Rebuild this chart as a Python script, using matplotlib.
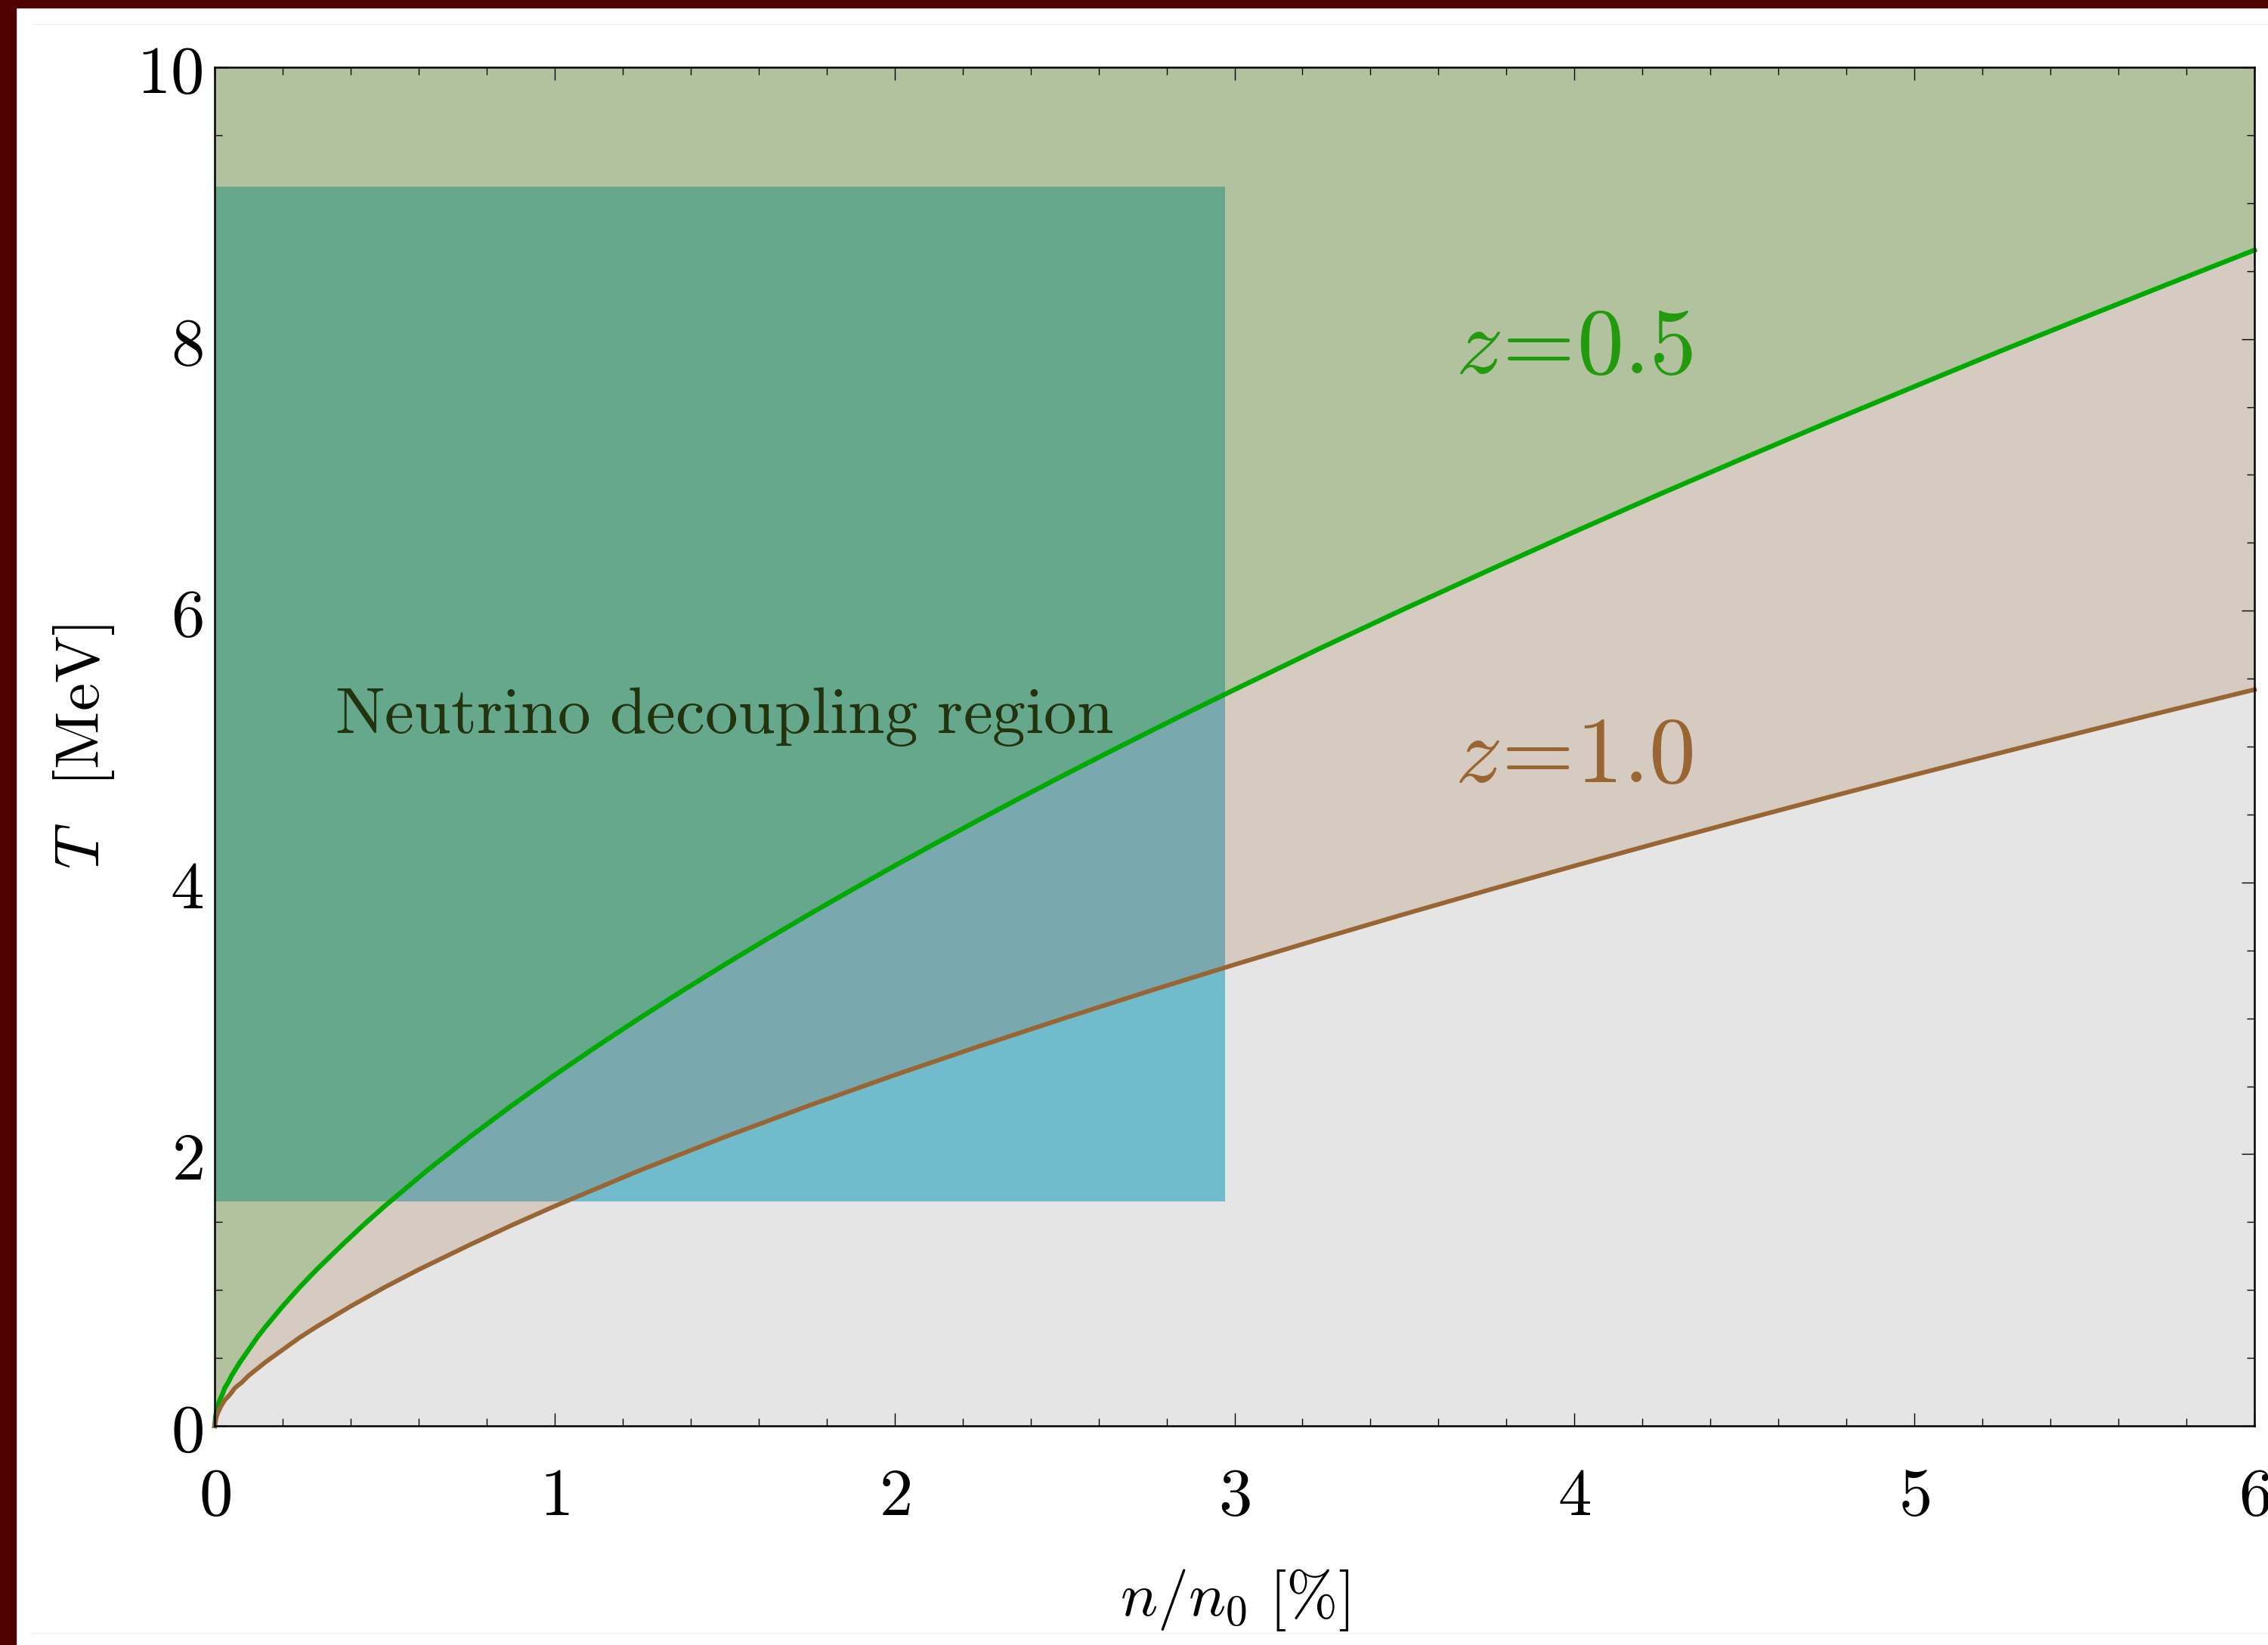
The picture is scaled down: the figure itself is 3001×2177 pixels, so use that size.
import numpy as np
import matplotlib
matplotlib.use("Agg")
import matplotlib.pyplot as plt
from matplotlib.patches import Rectangle
from matplotlib.lines import Line2D

plt.rcParams['mathtext.fontset'] = 'cm'

# T(n) curve for z = 1.0
x_z10 = [0, 0.005, 0.01, 0.02, 0.03, 0.045, 0.06, 0.08, 0.1, 0.125, 0.15, 0.2, 0.25,
         0.3, 0.4, 0.5, 0.6, 0.75, 0.875, 1.0, 1.25, 1.5, 1.75, 2.0, 2.25, 2.5, 2.75,
         3.0, 3.25, 3.5, 3.75, 4.0, 4.25, 4.5, 4.75, 5.0, 5.25, 5.5, 5.75, 6.0]
T_z10 = [0, 0.065, 0.10, 0.15, 0.19, 0.23, 0.28, 0.32, 0.37, 0.42, 0.47, 0.56, 0.65,
         0.73, 0.88, 1.02, 1.15, 1.332, 1.478, 1.617, 1.880, 2.126, 2.359, 2.582, 2.795,
         3.001, 3.201, 3.395, 3.583, 3.767, 3.946, 4.122, 4.294, 4.463, 4.629, 4.792,
         4.952, 5.110, 5.266, 5.419]

# T(n) curve for z = 0.5
x_z05 = [0, 0.0025, 0.005, 0.01, 0.015, 0.0225, 0.03, 0.04, 0.05, 0.0625, 0.075, 0.1,
         0.125, 0.15, 0.2, 0.25, 0.3, 0.375, 0.4375, 0.5, 0.625, 0.75, 0.875, 1.0,
         1.125, 1.25, 1.375, 1.5, 1.625, 1.75, 1.875, 2.0, 2.125, 2.25, 2.375, 2.5,
         2.625, 2.75, 2.875, 3.0, 3.25, 3.5, 3.75, 4.0, 4.25, 4.5, 4.75, 5.0, 5.25,
         5.5, 5.75, 6.0]
T_z05 = [0, 0.065, 0.10, 0.15, 0.19, 0.23, 0.28, 0.32, 0.37, 0.42, 0.47, 0.56,
         0.65, 0.73, 0.88, 1.02, 1.15, 1.332, 1.478, 1.617, 1.880, 2.126, 2.359, 2.582,
         2.795, 3.001, 3.201, 3.395, 3.583, 3.767, 3.946, 4.122, 4.294, 4.463, 4.629,
         4.792, 4.952, 5.110, 5.266, 5.419, 5.721, 6.014, 6.300, 6.581, 6.857, 7.126,
         7.391, 7.650, 7.908, 8.159, 8.408, 8.654]

# neutrino decoupling window
dec_n = (0.0, 2.97)
dec_T = (1.657, 9.12)

x_lim = (0, 6)
y_lim = (0, 10)
x_ticks = [0, 1, 2, 3, 4, 5, 6]
y_ticks = [0, 2, 4, 6, 8, 10]

W, H = 3001, 2177
fig = plt.figure(figsize=(W / 100, H / 100), dpi=100)
ax = fig.add_axes([284 / W, 1 - 1887 / H, (2983 - 284) / W, (1887 - 89) / H])
ax.set_xlim(*x_lim)
ax.set_ylim(*y_lim)

# common grid for the band boundaries
xg = np.union1d(x_z10, x_z05)
lo = np.interp(xg, x_z10, T_z10)
hi = np.interp(xg, x_z05, T_z05)
top = np.full_like(xg, y_lim[1])
bot = np.zeros_like(xg)

bands = [(bot, lo, '#e5e5e5', '#70bccd'),
         (lo, hi, '#d5cbc0', '#79a9ae'),
         (hi, top, '#b3c29e', '#66a88b')]

for y0, y1, c_out, c_in in bands:
    ax.fill_between(xg, y0, y1, color=c_out, lw=0, zorder=1)

clip = Rectangle((dec_n[0], dec_T[0]), dec_n[1] - dec_n[0], dec_T[1] - dec_T[0],
                 transform=ax.transData, fill=False, lw=0)
ax.add_patch(clip)
for y0, y1, c_out, c_in in bands:
    p = ax.fill_between(xg, y0, y1, color=c_in, lw=0, zorder=2)
    p.set_clip_path(clip)

ax.plot(x_z05, T_z05, color='#00aa00', lw=4.6, zorder=4, clip_on=False,
        solid_joinstyle='round')
ax.plot(x_z10, T_z10, color='#996633', lw=4.3, zorder=4, clip_on=False,
        solid_joinstyle='round')

ax.text(4.0, 7.94, r'$z\!=\!0.5$', color='#229a0d', fontsize=89,
        ha='center', va='center', zorder=5)
ax.text(4.0, 4.93, r'$z\!=\!1.0$', color='#996633', fontsize=89,
        ha='center', va='center', zorder=5)
ax.text(1.50, 5.10, r'$\mathrm{Neutrino\ decoupling\ region}$', color='#22330d',
        fontsize=63, ha='center', va='baseline', zorder=5)

# axes styling
for s in ax.spines.values():
    s.set_linewidth(1.8)
    s.set_color('black')
    s.set_zorder(6)

ax.set_xticks(x_ticks)
ax.set_xticklabels([f'${v}$' for v in x_ticks])
ax.set_yticks(y_ticks)
ax.set_yticklabels([f'${v}$' for v in y_ticks])
ax.set_xticks(np.arange(0, 6.0001, 0.2), minor=True)
ax.set_yticks(np.arange(0, 10.0001, 0.5), minor=True)
ax.tick_params(which='both', direction='in', top=True, right=True, width=1.0,
               colors='black')
ax.tick_params(which='major', length=12)
ax.tick_params(which='minor', length=7)
ax.tick_params(axis='x', which='major', labelsize=64, pad=36)
ax.tick_params(axis='y', which='major', labelsize=64, pad=11)
for t in ax.xaxis.get_major_ticks() + ax.xaxis.get_minor_ticks() + \
         ax.yaxis.get_major_ticks() + ax.yaxis.get_minor_ticks():
    t.tick2line.set_color('#4a4a4a')

ax.set_xlabel(r'$n/n_0\ [\%]$', fontsize=59, labelpad=36)
ax.set_ylabel(r'$T\ \ \,[\mathrm{MeV}]$', fontsize=60, labelpad=20)

# window frame
fig.patches.append(Rectangle((0, 0), 21 / W, 1, transform=fig.transFigure,
                             color='#4f0000', zorder=10))
fig.patches.append(Rectangle((0, 1 - 10 / H), 1, 10 / H, transform=fig.transFigure,
                             color='#4f0000', zorder=10))
fig.lines.append(Line2D([43 / W, 1], [1 - 32 / H] * 2, transform=fig.transFigure,
                        color='#eeeeee', lw=1.0))
fig.lines.append(Line2D([43 / W, 1], [1 - 2161 / H] * 2, transform=fig.transFigure,
                        color='#eeeeee', lw=1.0))

fig.savefig('out.png', dpi=100, facecolor='white')
